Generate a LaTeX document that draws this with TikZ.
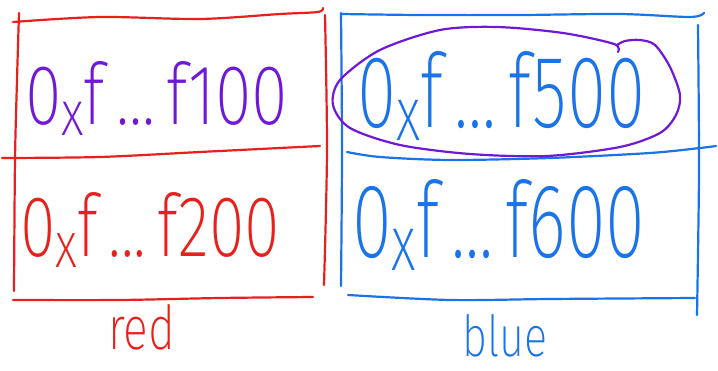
\documentclass[tikz,border=0pt]{standalone}
\usepackage{fontspec}
\setmainfont{Fira Sans ExtraLight}
\definecolor{hred}{RGB}{232,32,28}
\definecolor{hblue}{RGB}{26,115,232}
\definecolor{hpurple}{RGB}{112,24,216}
\newcommand\hexaddr[1]{0\raisebox{-0.12em}{\scalebox{0.75}{x}}f\,...\,f#1}
\begin{document}
\begin{tikzpicture}[x=1pt,y=-1pt,
  pen/.style={line width=2.2pt, line cap=round, line join=round},
  addr/.style={anchor=base west, inner sep=0pt}]
\useasboundingbox (0,0) rectangle (718,371);
\fill[white] (0,0) rectangle (718,371);
% red box
\draw[pen,hred] plot[smooth] coordinates {(13,22) (100,17) (200,19) (280,14) (318,12) (323,8)};
\draw[pen,hred] plot[smooth] coordinates {(19,13) (17,80) (15,160) (14,291)};
\draw[pen,hred] plot[smooth] coordinates {(325,15) (327,150) (324,285)};
\draw[pen,hred] plot[smooth] coordinates {(2,158) (100,157) (200,152) (320,146)};
\draw[pen,hred] plot[smooth] coordinates {(13,300) (120,300) (220,298) (313,297)};
% blue box
\draw[pen,hblue] plot[smooth] coordinates {(341,14) (420,15) (520,15) (620,14) (690,17) (704,13)};
\draw[pen,hblue] plot[smooth] coordinates {(341,13) (342,150) (341,286)};
\draw[pen,hblue] plot[smooth] coordinates {(698,25) (699,170) (697,315)};
\draw[pen,hblue] plot[smooth] coordinates {(347,152) (380,157) (450,160) (550,158) (650,153) (700,148) (716,146)};
\draw[pen,hblue] plot[smooth] coordinates {(348,295) (450,300) (550,299) (695,298)};
% texts
\node[addr,text=hpurple] (a100) at (25,125) {\resizebox{263pt}{63pt}{\hexaddr{100}}};
\node[addr,text=hred] (a200) at (20,257) {\resizebox{260pt}{64pt}{\hexaddr{200}}};
\node[addr,text=hblue] (a500) at (357,128) {\resizebox{288pt}{76pt}{\hexaddr{500}}};
\node[addr,text=hblue] (a600) at (352,258) {\resizebox{293pt}{78pt}{\hexaddr{600}}};
\node[addr,text=hred] (lred) at (108,350) {\resizebox{67pt}{45pt}{red}};
\node[addr,text=hblue] (lblue) at (462,357) {\resizebox{85pt}{42pt}{blue}};
% purple loop around f500
\draw[pen,hpurple] plot[smooth] coordinates {(618,52) (614,44) (563,33) (497,27) (440,30) (380,50) (340,80) (333,105) (350,128) (400,145) (470,154) (547,156) (620,147) (660,133) (676,115) (680,95) (670,67) (655,45) (640,40) (625,41) (617,45)};
\end{tikzpicture}
\end{document}
